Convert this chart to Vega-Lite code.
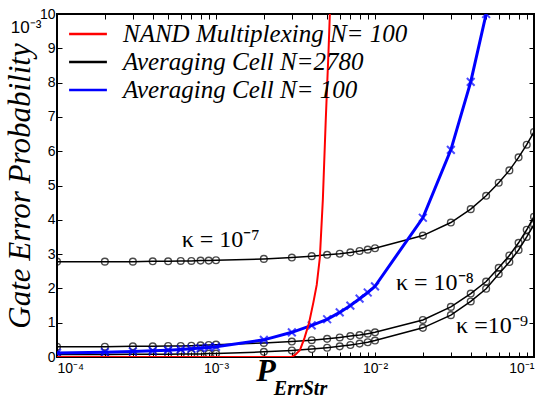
{
  "$schema": "https://vega.github.io/schema/vega-lite/v6.json",
  "width": 477,
  "height": 343,
  "autosize": {"type": "none"},
  "padding": {"left": 57, "top": 14, "right": 10, "bottom": 42},
  "background": "white",
  "datasets": {
    "curves": [
      {"x": 0.0001, "y": 2.78, "series": "Averaging Cell N=2780", "curve": "k7"},
      {"x": 0.0002, "y": 2.78, "series": "Averaging Cell N=2780", "curve": "k7"},
      {"x": 0.0003, "y": 2.78, "series": "Averaging Cell N=2780", "curve": "k7"},
      {"x": 0.0004, "y": 2.79, "series": "Averaging Cell N=2780", "curve": "k7"},
      {"x": 0.0005, "y": 2.79, "series": "Averaging Cell N=2780", "curve": "k7"},
      {"x": 0.0006, "y": 2.8, "series": "Averaging Cell N=2780", "curve": "k7"},
      {"x": 0.0007, "y": 2.8, "series": "Averaging Cell N=2780", "curve": "k7"},
      {"x": 0.0008, "y": 2.81, "series": "Averaging Cell N=2780", "curve": "k7"},
      {"x": 0.0009, "y": 2.81, "series": "Averaging Cell N=2780", "curve": "k7"},
      {"x": 0.001, "y": 2.82, "series": "Averaging Cell N=2780", "curve": "k7"},
      {"x": 0.002, "y": 2.86, "series": "Averaging Cell N=2780", "curve": "k7"},
      {"x": 0.003, "y": 2.9, "series": "Averaging Cell N=2780", "curve": "k7"},
      {"x": 0.004, "y": 2.94, "series": "Averaging Cell N=2780", "curve": "k7"},
      {"x": 0.005, "y": 2.98, "series": "Averaging Cell N=2780", "curve": "k7"},
      {"x": 0.006, "y": 3.01, "series": "Averaging Cell N=2780", "curve": "k7"},
      {"x": 0.007, "y": 3.05, "series": "Averaging Cell N=2780", "curve": "k7"},
      {"x": 0.008, "y": 3.09, "series": "Averaging Cell N=2780", "curve": "k7"},
      {"x": 0.009, "y": 3.13, "series": "Averaging Cell N=2780", "curve": "k7"},
      {"x": 0.01, "y": 3.17, "series": "Averaging Cell N=2780", "curve": "k7"},
      {"x": 0.02, "y": 3.54, "series": "Averaging Cell N=2780", "curve": "k7"},
      {"x": 0.03, "y": 3.92, "series": "Averaging Cell N=2780", "curve": "k7"},
      {"x": 0.04, "y": 4.31, "series": "Averaging Cell N=2780", "curve": "k7"},
      {"x": 0.05, "y": 4.7, "series": "Averaging Cell N=2780", "curve": "k7"},
      {"x": 0.06, "y": 5.08, "series": "Averaging Cell N=2780", "curve": "k7"},
      {"x": 0.07, "y": 5.44, "series": "Averaging Cell N=2780", "curve": "k7"},
      {"x": 0.08, "y": 5.82, "series": "Averaging Cell N=2780", "curve": "k7"},
      {"x": 0.09, "y": 6.19, "series": "Averaging Cell N=2780", "curve": "k7"},
      {"x": 0.1, "y": 6.56, "series": "Averaging Cell N=2780", "curve": "k7"},

      {"x": 0.0001, "y": 0.3, "series": "Averaging Cell N=2780", "curve": "k8"},
      {"x": 0.0002, "y": 0.3, "series": "Averaging Cell N=2780", "curve": "k8"},
      {"x": 0.0003, "y": 0.31, "series": "Averaging Cell N=2780", "curve": "k8"},
      {"x": 0.0004, "y": 0.31, "series": "Averaging Cell N=2780", "curve": "k8"},
      {"x": 0.0005, "y": 0.32, "series": "Averaging Cell N=2780", "curve": "k8"},
      {"x": 0.0006, "y": 0.32, "series": "Averaging Cell N=2780", "curve": "k8"},
      {"x": 0.0007, "y": 0.33, "series": "Averaging Cell N=2780", "curve": "k8"},
      {"x": 0.0008, "y": 0.34, "series": "Averaging Cell N=2780", "curve": "k8"},
      {"x": 0.0009, "y": 0.35, "series": "Averaging Cell N=2780", "curve": "k8"},
      {"x": 0.001, "y": 0.36, "series": "Averaging Cell N=2780", "curve": "k8"},
      {"x": 0.002, "y": 0.41, "series": "Averaging Cell N=2780", "curve": "k8"},
      {"x": 0.003, "y": 0.45, "series": "Averaging Cell N=2780", "curve": "k8"},
      {"x": 0.004, "y": 0.49, "series": "Averaging Cell N=2780", "curve": "k8"},
      {"x": 0.005, "y": 0.53, "series": "Averaging Cell N=2780", "curve": "k8"},
      {"x": 0.006, "y": 0.57, "series": "Averaging Cell N=2780", "curve": "k8"},
      {"x": 0.007, "y": 0.61, "series": "Averaging Cell N=2780", "curve": "k8"},
      {"x": 0.008, "y": 0.64, "series": "Averaging Cell N=2780", "curve": "k8"},
      {"x": 0.009, "y": 0.68, "series": "Averaging Cell N=2780", "curve": "k8"},
      {"x": 0.01, "y": 0.72, "series": "Averaging Cell N=2780", "curve": "k8"},
      {"x": 0.02, "y": 1.08, "series": "Averaging Cell N=2780", "curve": "k8"},
      {"x": 0.03, "y": 1.46, "series": "Averaging Cell N=2780", "curve": "k8"},
      {"x": 0.04, "y": 1.85, "series": "Averaging Cell N=2780", "curve": "k8"},
      {"x": 0.05, "y": 2.2, "series": "Averaging Cell N=2780", "curve": "k8"},
      {"x": 0.06, "y": 2.6, "series": "Averaging Cell N=2780", "curve": "k8"},
      {"x": 0.07, "y": 2.96, "series": "Averaging Cell N=2780", "curve": "k8"},
      {"x": 0.08, "y": 3.33, "series": "Averaging Cell N=2780", "curve": "k8"},
      {"x": 0.09, "y": 3.71, "series": "Averaging Cell N=2780", "curve": "k8"},
      {"x": 0.1, "y": 4.09, "series": "Averaging Cell N=2780", "curve": "k8"},

      {"x": 0.0001, "y": 0.07, "series": "Averaging Cell N=2780", "curve": "k9"},
      {"x": 0.0002, "y": 0.07, "series": "Averaging Cell N=2780", "curve": "k9"},
      {"x": 0.0003, "y": 0.08, "series": "Averaging Cell N=2780", "curve": "k9"},
      {"x": 0.0004, "y": 0.08, "series": "Averaging Cell N=2780", "curve": "k9"},
      {"x": 0.0005, "y": 0.08, "series": "Averaging Cell N=2780", "curve": "k9"},
      {"x": 0.0006, "y": 0.09, "series": "Averaging Cell N=2780", "curve": "k9"},
      {"x": 0.0007, "y": 0.09, "series": "Averaging Cell N=2780", "curve": "k9"},
      {"x": 0.0008, "y": 0.09, "series": "Averaging Cell N=2780", "curve": "k9"},
      {"x": 0.0009, "y": 0.1, "series": "Averaging Cell N=2780", "curve": "k9"},
      {"x": 0.001, "y": 0.1, "series": "Averaging Cell N=2780", "curve": "k9"},
      {"x": 0.002, "y": 0.15, "series": "Averaging Cell N=2780", "curve": "k9"},
      {"x": 0.003, "y": 0.19, "series": "Averaging Cell N=2780", "curve": "k9"},
      {"x": 0.004, "y": 0.23, "series": "Averaging Cell N=2780", "curve": "k9"},
      {"x": 0.005, "y": 0.27, "series": "Averaging Cell N=2780", "curve": "k9"},
      {"x": 0.006, "y": 0.31, "series": "Averaging Cell N=2780", "curve": "k9"},
      {"x": 0.007, "y": 0.35, "series": "Averaging Cell N=2780", "curve": "k9"},
      {"x": 0.008, "y": 0.39, "series": "Averaging Cell N=2780", "curve": "k9"},
      {"x": 0.009, "y": 0.43, "series": "Averaging Cell N=2780", "curve": "k9"},
      {"x": 0.01, "y": 0.48, "series": "Averaging Cell N=2780", "curve": "k9"},
      {"x": 0.02, "y": 0.85, "series": "Averaging Cell N=2780", "curve": "k9"},
      {"x": 0.03, "y": 1.22, "series": "Averaging Cell N=2780", "curve": "k9"},
      {"x": 0.04, "y": 1.62, "series": "Averaging Cell N=2780", "curve": "k9"},
      {"x": 0.05, "y": 1.99, "series": "Averaging Cell N=2780", "curve": "k9"},
      {"x": 0.06, "y": 2.42, "series": "Averaging Cell N=2780", "curve": "k9"},
      {"x": 0.07, "y": 2.77, "series": "Averaging Cell N=2780", "curve": "k9"},
      {"x": 0.08, "y": 3.12, "series": "Averaging Cell N=2780", "curve": "k9"},
      {"x": 0.09, "y": 3.5, "series": "Averaging Cell N=2780", "curve": "k9"},
      {"x": 0.1, "y": 3.86, "series": "Averaging Cell N=2780", "curve": "k9"},

      {"x": 0.0001, "y": 0.12, "series": "Averaging Cell N= 100", "curve": "a100"},
      {"x": 0.0002, "y": 0.14, "series": "Averaging Cell N= 100", "curve": "a100"},
      {"x": 0.0003, "y": 0.16, "series": "Averaging Cell N= 100", "curve": "a100"},
      {"x": 0.0004, "y": 0.18, "series": "Averaging Cell N= 100", "curve": "a100"},
      {"x": 0.0005, "y": 0.2, "series": "Averaging Cell N= 100", "curve": "a100"},
      {"x": 0.0006, "y": 0.22, "series": "Averaging Cell N= 100", "curve": "a100"},
      {"x": 0.0007, "y": 0.24, "series": "Averaging Cell N= 100", "curve": "a100"},
      {"x": 0.0008, "y": 0.26, "series": "Averaging Cell N= 100", "curve": "a100"},
      {"x": 0.0009, "y": 0.28, "series": "Averaging Cell N= 100", "curve": "a100"},
      {"x": 0.001, "y": 0.3, "series": "Averaging Cell N= 100", "curve": "a100"},
      {"x": 0.002, "y": 0.5, "series": "Averaging Cell N= 100", "curve": "a100"},
      {"x": 0.003, "y": 0.72, "series": "Averaging Cell N= 100", "curve": "a100"},
      {"x": 0.004, "y": 0.92, "series": "Averaging Cell N= 100", "curve": "a100"},
      {"x": 0.005, "y": 1.1, "series": "Averaging Cell N= 100", "curve": "a100"},
      {"x": 0.006, "y": 1.3, "series": "Averaging Cell N= 100", "curve": "a100"},
      {"x": 0.007, "y": 1.5, "series": "Averaging Cell N= 100", "curve": "a100"},
      {"x": 0.008, "y": 1.7, "series": "Averaging Cell N= 100", "curve": "a100"},
      {"x": 0.009, "y": 1.88, "series": "Averaging Cell N= 100", "curve": "a100"},
      {"x": 0.01, "y": 2.06, "series": "Averaging Cell N= 100", "curve": "a100"},
      {"x": 0.02, "y": 4.06, "series": "Averaging Cell N= 100", "curve": "a100"},
      {"x": 0.03, "y": 6.04, "series": "Averaging Cell N= 100", "curve": "a100"},
      {"x": 0.04, "y": 8.02, "series": "Averaging Cell N= 100", "curve": "a100"},
      {"x": 0.05, "y": 10.0, "series": "Averaging Cell N= 100", "curve": "a100"},

      {"x": 0.0001, "y": 0.0, "series": "NAND Multiplexing N= 100", "curve": "nand"},
      {"x": 0.001, "y": 0.0, "series": "NAND Multiplexing N= 100", "curve": "nand"},
      {"x": 0.002, "y": 0.0, "series": "NAND Multiplexing N= 100", "curve": "nand"},
      {"x": 0.003, "y": 0.01, "series": "NAND Multiplexing N= 100", "curve": "nand"},
      {"x": 0.00314, "y": 0.06, "series": "NAND Multiplexing N= 100", "curve": "nand"},
      {"x": 0.00337, "y": 0.2, "series": "NAND Multiplexing N= 100", "curve": "nand"},
      {"x": 0.0036, "y": 0.55, "series": "NAND Multiplexing N= 100", "curve": "nand"},
      {"x": 0.00385, "y": 1.0, "series": "NAND Multiplexing N= 100", "curve": "nand"},
      {"x": 0.0041, "y": 1.6, "series": "NAND Multiplexing N= 100", "curve": "nand"},
      {"x": 0.0043, "y": 2.1, "series": "NAND Multiplexing N= 100", "curve": "nand"},
      {"x": 0.0045, "y": 2.9, "series": "NAND Multiplexing N= 100", "curve": "nand"},
      {"x": 0.0047, "y": 4.6, "series": "NAND Multiplexing N= 100", "curve": "nand"},
      {"x": 0.0049, "y": 6.9, "series": "NAND Multiplexing N= 100", "curve": "nand"},
      {"x": 0.0051, "y": 8.9, "series": "NAND Multiplexing N= 100", "curve": "nand"},
      {"x": 0.0052, "y": 10.0, "series": "NAND Multiplexing N= 100", "curve": "nand"}
    ],
    "notes": [
      {"x": 0.00107, "y": 3.41, "label": "κ = 10⁻⁷"},
      {"x": 0.0238, "y": 2.16, "label": "κ = 10⁻⁸"},
      {"x": 0.0545, "y": 0.9, "label": "κ =10⁻⁹"}
    ],
    "one": [{}]
  },
  "layer": [
    {
      "data": {"name": "curves"},
      "transform": [{"filter": "datum.series == 'Averaging Cell N=2780'"}],
      "mark": {"type": "line", "clip": true, "strokeWidth": 1.5},
      "encoding": {
        "x": {
          "field": "x", "type": "quantitative",
          "scale": {"type": "log", "domain": [0.0001, 0.1], "nice": false},
          "axis": {
            "orient": "bottom", "title": null, "tickSize": -5, "labelPadding": 9,
            "values": [0.0001,0.0002,0.0003,0.0004,0.0005,0.0006,0.0007,0.0008,0.0009,0.001,0.002,0.003,0.004,0.005,0.006,0.007,0.008,0.009,0.01,0.02,0.03,0.04,0.05,0.06,0.07,0.08,0.09,0.1],
            "labelExpr": "datum.value == 0.0001 ? '10⁻⁴' : datum.value == 0.001 ? '10⁻³' : datum.value == 0.01 ? '10⁻²' : datum.value == 0.1 ? '10⁻¹' : ''"
          }
        },
        "y": {
          "field": "y", "type": "quantitative",
          "scale": {"domain": [0, 10], "nice": false},
          "axis": {
            "orient": "left", "title": "Gate Error Probability", "tickSize": -5, "labelPadding": 7,
            "values": [0,1,2,3,4,5,6,7,8,9,10],
            "titleFont": "Liberation Serif", "titleFontStyle": "italic", "titleFontWeight": "normal",
            "titleFontSize": 31, "titlePadding": 3
          }
        },
        "color": {
          "field": "series", "type": "nominal",
          "scale": {
            "domain": ["NAND Multiplexing N= 100", "Averaging Cell N=2780", "Averaging Cell N= 100"],
            "range": ["#ff0000", "#000000", "#0000ff"]
          },
          "legend": {
            "title": null, "orient": "none", "legendX": 16, "legendY": 5,
            "symbolType": "M-1.4,0L1.4,0", "symbolSize": 729, "symbolStrokeWidth": 2.5,
            "labelFont": "Liberation Serif", "labelFontStyle": "italic", "labelFontSize": 25,
            "labelColor": "black", "labelLimit": 500, "labelOffset": 20, "rowPadding": 0
          }
        },
        "detail": {"field": "curve"}
      }
    },
    {
      "data": {"name": "curves"},
      "transform": [{"filter": "datum.series == 'Averaging Cell N=2780'"}],
      "mark": {"type": "point", "shape": "circle", "filled": false, "color": "black", "size": 45, "strokeWidth": 1.4, "clip": true},
      "encoding": {
        "x": {
          "field": "x", "type": "quantitative",
          "axis": {
            "orient": "top", "title": null, "labels": false, "tickSize": -5,
            "values": [0.0001,0.0002,0.0003,0.0004,0.0005,0.0006,0.0007,0.0008,0.0009,0.001,0.002,0.003,0.004,0.005,0.006,0.007,0.008,0.009,0.01,0.02,0.03,0.04,0.05,0.06,0.07,0.08,0.09,0.1]
          }
        },
        "y": {
          "field": "y", "type": "quantitative",
          "axis": {"orient": "right", "title": null, "labels": false, "tickSize": -5, "values": [0,1,2,3,4,5,6,7,8,9,10]}
        }
      }
    },
    {
      "data": {"name": "curves"},
      "transform": [{"filter": "datum.series == 'Averaging Cell N= 100'"}],
      "mark": {"type": "line", "clip": true, "strokeWidth": 3},
      "encoding": {
        "x": {"field": "x", "type": "quantitative", "axis": null},
        "y": {"field": "y", "type": "quantitative", "axis": null},
        "color": {"field": "series", "type": "nominal"}
      }
    },
    {
      "data": {"name": "curves"},
      "transform": [{"filter": "datum.series == 'Averaging Cell N= 100'"}],
      "mark": {"type": "point", "shape": "M-1,-1L1,1M-1,1L1,-1", "filled": false, "color": "#0000ff", "size": 60, "strokeWidth": 2, "clip": true},
      "encoding": {
        "x": {"field": "x", "type": "quantitative", "axis": null},
        "y": {"field": "y", "type": "quantitative", "axis": null}
      }
    },
    {
      "data": {"name": "curves"},
      "transform": [{"filter": "datum.series == 'NAND Multiplexing N= 100'"}],
      "mark": {"type": "line", "clip": true, "strokeWidth": 2},
      "encoding": {
        "x": {"field": "x", "type": "quantitative", "axis": null},
        "y": {"field": "y", "type": "quantitative", "axis": null},
        "color": {"field": "series", "type": "nominal"}
      }
    },
    {
      "data": {"name": "notes"},
      "mark": {"type": "text", "font": "Liberation Serif", "fontSize": 24, "align": "center", "baseline": "middle", "color": "black"},
      "encoding": {
        "x": {"field": "x", "type": "quantitative", "axis": null},
        "y": {"field": "y", "type": "quantitative", "axis": null},
        "text": {"field": "label"}
      }
    },
    {
      "data": {"name": "one"},
      "mark": {"type": "text", "text": "10⁻³", "font": "Liberation Sans", "fontSize": 17, "align": "center", "baseline": "middle", "dx": -31, "dy": 14, "color": "black"},
      "encoding": {
        "x": {"datum": 0.0001, "type": "quantitative", "axis": null},
        "y": {"datum": 10, "type": "quantitative", "axis": null}
      }
    },
    {
      "data": {"name": "one"},
      "mark": {"type": "text", "text": "P", "font": "Liberation Serif", "fontStyle": "italic", "fontWeight": "bold", "fontSize": 32, "align": "center", "baseline": "middle", "dy": 14, "color": "black"},
      "encoding": {
        "x": {"datum": 0.00206, "type": "quantitative", "axis": null},
        "y": {"datum": 0, "type": "quantitative", "axis": null}
      }
    },
    {
      "data": {"name": "one"},
      "mark": {"type": "text", "text": "ErrStr", "font": "Liberation Serif", "fontStyle": "italic", "fontWeight": "bold", "fontSize": 20, "align": "center", "baseline": "middle", "dy": 32, "color": "black"},
      "encoding": {
        "x": {"datum": 0.0034, "type": "quantitative", "axis": null},
        "y": {"datum": 0, "type": "quantitative", "axis": null}
      }
    }
  ],
  "resolve": {"axis": {"x": "independent", "y": "independent"}},
  "config": {
    "view": {"stroke": "black", "strokeWidth": 2},
    "axis": {
      "domain": false, "grid": false, "tickColor": "black", "tickWidth": 1,
      "labelColor": "black", "titleColor": "black",
      "labelFont": "Liberation Sans", "labelFontSize": 14
    }
  }
}
